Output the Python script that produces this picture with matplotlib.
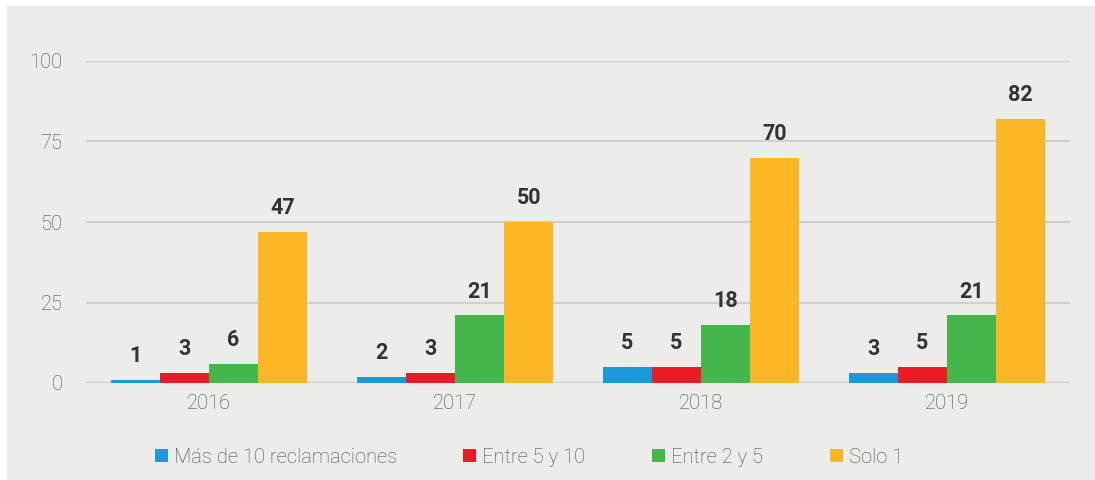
import numpy as np
import matplotlib.pyplot as plt
from matplotlib.patches import Rectangle

plt.rcParams['font.family'] = ['Roboto', 'DejaVu Sans']

years = ['2016', '2017', '2018', '2019']
series_names = ['Más de 10 reclamaciones', 'Entre 5 y 10', 'Entre 2 y 5', 'Solo 1']
mas_de_10 = [1, 2, 5, 3]
entre_5_10 = [3, 3, 5, 5]
entre_2_5 = [6, 21, 18, 21]
solo_1 = [47, 50, 70, 82]
colors = ['#1A9BD7', '#EC1C24', '#45B649', '#FBB725']

bg = '#ECEDEA'
fig = plt.figure(figsize=(10.95, 4.80), dpi=100)
# grey panel behind the chart, leaving a thin white border top/left
fig.patches.append(Rectangle((7 / 1095, 0), 1, 1 - 6 / 480,
                             transform=fig.transFigure, facecolor=bg,
                             edgecolor='none', zorder=-10))

ax = fig.add_axes([86 / 1095, 1 - 383 / 480, (1070 - 86) / 1095, (383 - 61) / 480])
ax.set_facecolor('none')

x = np.arange(len(years))
w = 0.2
all_series = [mas_de_10, entre_5_10, entre_2_5, solo_1]
for i, (vals, name, c) in enumerate(zip(all_series, series_names, colors)):
    pos = x + (i - 1.5) * w
    ax.bar(pos, vals, width=w, color=c, label=name, zorder=3)
    for p, v in zip(pos, vals):
        ax.text(p, v + 4, str(v), ha='center', va='bottom', fontsize=15.5,
                fontweight='bold', color='#333333')

ax.set_xlim(-0.5, 3.5)
ax.set_ylim(0, 100)
ax.set_yticks([0, 25, 50, 75, 100])
ax.set_xticks(x)
ax.set_xticklabels(years)
ax.tick_params(length=0, labelsize=14.5, labelcolor='#4A4A4A')
for lbl in ax.get_xticklabels() + ax.get_yticklabels():
    lbl.set_fontweight('light')
ax.tick_params(axis='y', pad=17)
ax.tick_params(axis='x', pad=8)
ax.grid(axis='y', color='#CFCFCF', linewidth=1.5, zorder=0)
ax.axhline(0, color='#CFCFCF', linewidth=2.5, zorder=2)
for s in ax.spines.values():
    s.set_visible(False)

leg = ax.legend(loc='upper center', bbox_to_anchor=(0.45, -0.145), ncol=4,
                frameon=False, fontsize=14.5, handlelength=0.65, handleheight=0.65,
                handletextpad=0.3, columnspacing=3.3)
for t in leg.get_texts():
    t.set_color('#4A4A4A')
    t.set_fontweight('light')

plt.savefig('out.png', dpi=100)
